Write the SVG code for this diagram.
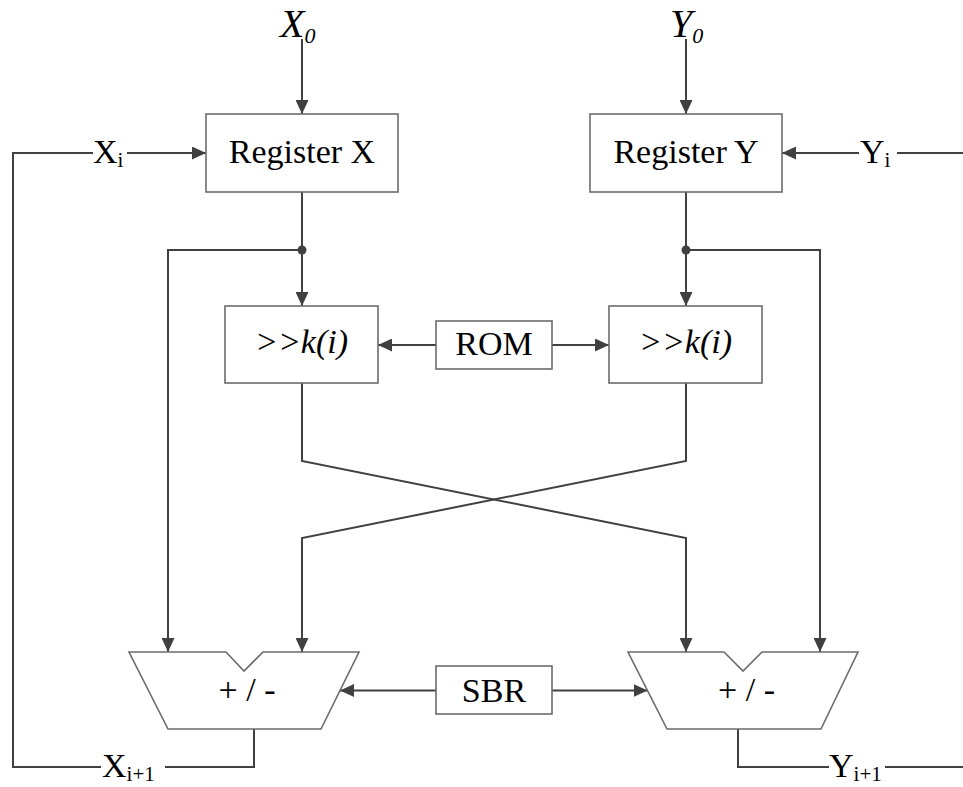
<svg xmlns="http://www.w3.org/2000/svg" width="963" height="787" viewBox="0 0 963 787">
<style>
.box{fill:#fff;stroke:#6b6b6b;stroke-width:1.6}
.ln{fill:none;stroke:#404040;stroke-width:2}
text{font-family:'Liberation Serif','Times New Roman','DejaVu Serif',serif;font-size:34px;fill:#000}
.it{font-style:italic}
.sub{font-size:21px}
</style>
<defs>
<marker id="ah" viewBox="0 0 14 13" refX="14" refY="6.5" markerWidth="14" markerHeight="13" orient="auto" markerUnits="userSpaceOnUse">
<path d="M0,0 L14,6.5 L0,13 z" fill="#404040"/>
</marker>
</defs>
<rect width="963" height="787" fill="#fff"/>
<g id="connectors">
<line class="ln" x1="302" y1="39" x2="302" y2="114" marker-end="url(#ah)"/>
<line class="ln" x1="686" y1="39" x2="686" y2="114" marker-end="url(#ah)"/>
<path class="ln" d="M254,729 V767 H165"/>
<path class="ln" d="M101,767 H13 V153 H93"/>
<path class="ln" d="M127,153 H206" marker-end="url(#ah)"/>
<path class="ln" d="M738,729 V767 H829"/>
<path class="ln" d="M885,767 H963"/>
<path class="ln" d="M963,153 H897"/>
<path class="ln" d="M859,153 H782" marker-end="url(#ah)"/>
<path class="ln" d="M302,192 V306" marker-end="url(#ah)"/>
<path class="ln" d="M302,250 H168 V652" marker-end="url(#ah)"/>
<circle cx="302" cy="250" r="4.5" fill="#404040"/>
<path class="ln" d="M686,192 V306" marker-end="url(#ah)"/>
<path class="ln" d="M686,250 H820 V652" marker-end="url(#ah)"/>
<circle cx="686" cy="250" r="4.5" fill="#404040"/>
<path class="ln" d="M436,345 H378" marker-end="url(#ah)"/>
<path class="ln" d="M552,345 H609" marker-end="url(#ah)"/>
<path class="ln" d="M302,383 V461 L686,538 V652" marker-end="url(#ah)"/>
<path class="ln" d="M686,383 V461 L302,538 V652" marker-end="url(#ah)"/>
<path class="ln" d="M436,690.5 H340" marker-end="url(#ah)"/>
<path class="ln" d="M552,690.5 H647.5" marker-end="url(#ah)"/>
</g>
<g id="label-x0"><text class="it" x="280" y="37" font-family="Liberation Serif, serif" style="font-size:40px">X<tspan dy="6" style="font-size:22px">0</tspan></text></g>
<g id="label-y0"><text class="it" x="670" y="37" font-family="Liberation Serif, serif" style="font-size:40px">Y<tspan dy="6" style="font-size:22px">0</tspan></text></g>
<g id="label-xi"><text x="93" y="163" font-family="Liberation Serif, serif">X<tspan class="sub" dy="4">i</tspan></text></g>
<g id="label-yi"><text x="860" y="163" font-family="Liberation Serif, serif">Y<tspan class="sub" dy="4">i</tspan></text></g>
<g id="label-xi1"><text x="102" y="777" font-family="Liberation Serif, serif">X<tspan class="sub" dy="4">i+1</tspan></text></g>
<g id="label-yi1"><text x="829" y="777" font-family="Liberation Serif, serif">Y<tspan class="sub" dy="4">i+1</tspan></text></g>
<g id="register-x"><rect class="box" x="206" y="114" width="192" height="78"/><text x="302" y="163" text-anchor="middle" font-family="Liberation Serif, serif">Register X</text></g>
<g id="register-y"><rect class="box" x="590" y="114" width="192" height="78"/><text x="686" y="163" text-anchor="middle" font-family="Liberation Serif, serif">Register Y</text></g>
<g id="shift-x"><rect class="box" x="225" y="306" width="153" height="77"/><text class="it" x="301.5" y="353" text-anchor="middle" font-family="Liberation Serif, serif">&gt;&gt;k(i)</text></g>
<g id="rom"><rect class="box" x="436" y="321" width="116" height="48"/><text x="494" y="355" text-anchor="middle" font-family="Liberation Serif, serif">ROM</text></g>
<g id="shift-y"><rect class="box" x="609" y="306" width="153" height="77"/><text class="it" x="685.5" y="353" text-anchor="middle" font-family="Liberation Serif, serif">&gt;&gt;k(i)</text></g>
<g id="sbr"><rect class="box" x="436" y="666" width="116" height="48"/><text x="494" y="702" text-anchor="middle" font-family="Liberation Serif, serif">SBR</text></g>
<g id="adder-x"><path class="box" d="M129,652 H226 L244,671 L263,652 H359 L321,729 H168 Z"/><text x="247" y="701" text-anchor="middle" font-family="Liberation Serif, serif">+ / -</text></g>
<g id="adder-y"><path class="box" d="M628,652 H724 L743,671 L762,652 H858 L821,729 H667 Z"/><text x="746.5" y="701" text-anchor="middle" font-family="Liberation Serif, serif">+ / -</text></g>
</svg>
